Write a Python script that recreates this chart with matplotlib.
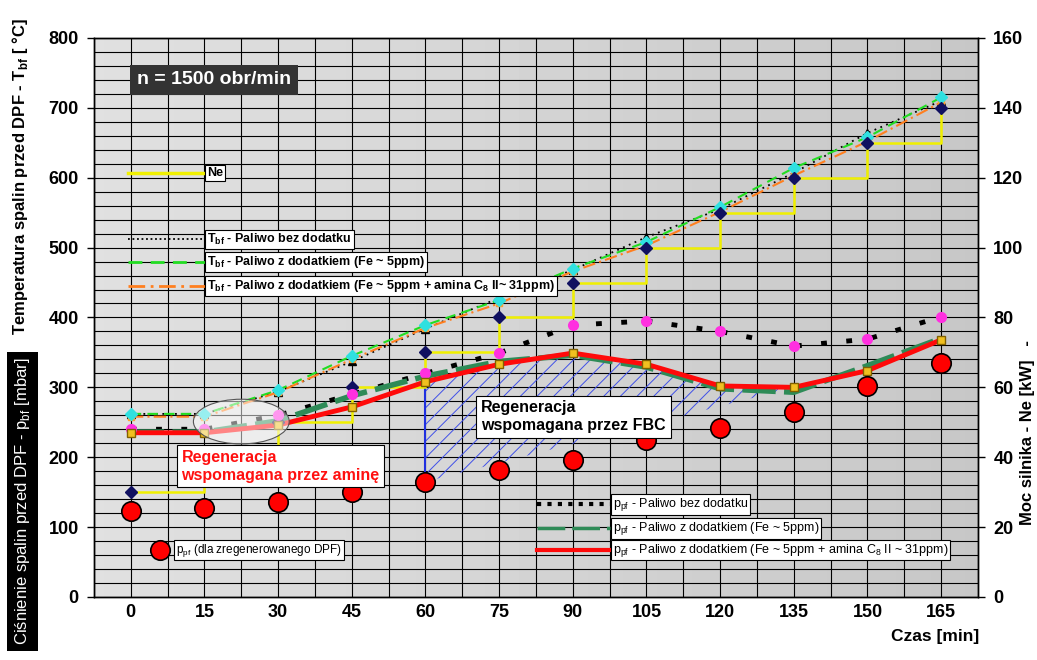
import matplotlib
matplotlib.use('Agg')
import matplotlib.pyplot as plt
from matplotlib.patches import Ellipse
import numpy as np

plt.rcParams.update({
    'font.family': ['Liberation Sans', 'DejaVu Sans'],
    'font.weight': 'bold',
    'hatch.linewidth': 0.7,
})

# czas pomiaru [min]
czas = [0, 15, 30, 45, 60, 75, 90, 105, 120, 135, 150, 165]

# moc silnika Ne [kW]
ne = [30, 40, 50, 60, 70, 80, 90, 100, 110, 120, 130, 140]

# temperatura spalin przed DPF [C]
t_bez = [262, 262, 294, 337, 384, 428, 468, 515, 555, 607, 664, 710]
t_fe = [262, 262, 296, 345, 389, 425, 470, 508, 558, 614, 658, 715]
t_fe_amina = [258, 258, 293, 340, 385, 420, 466, 503, 551, 603, 652, 708]

# cisnienie spalin przed DPF [mbar]
p_bez = [240, 240, 260, 290, 320, 349, 389, 395, 380, 359, 369, 401]
p_fe = [236, 236, 252, 288, 316, 337, 346, 329, 298, 293, 331, 370]
p_fe_amina = [235, 235, 246, 272, 308, 333, 349, 333, 302, 300, 324, 368]
p_regen = [123, 127, 136, 150, 165, 182, 196, 225, 242, 265, 302, 335]

fig = plt.figure(figsize=(10.37, 6.6), dpi=100)
ax = fig.add_axes([0.0906, 0.0955, 0.8525, 0.847])
ax.set_xlim(-7.5, 172.5)
ax.set_ylim(0, 800)

# os prawa - moc silnika
ax2 = ax.twinx()
ax2.set_ylim(0, 160)

# tlo - szary gradient
grad = np.linspace(0.88, 0.78, 256).reshape(1, -1)
ax.imshow(grad, cmap='gray', vmin=0, vmax=1, aspect='auto',
          extent=[-7.5, 172.5, 0, 800], zorder=0)

# siatka
for xv in np.arange(-7.5, 173, 7.5):
    ax.axvline(xv, color='black', lw=0.8, zorder=1)
for yv in np.arange(0, 801, 20):
    ax.axhline(yv, color='black', lw=0.8, zorder=1)

# obszar regeneracji FBC (kreskowanie)
i0, i1 = czas.index(60), czas.index(135)
t_h = np.array(czas[i0:i1 + 1])
gora = np.array(p_fe_amina[i0:i1 + 1])
dol = np.interp(t_h, [czas[i0], czas[i1]], [p_regen[i0], p_fe_amina[i1]])
ax.fill_between(t_h, dol, gora, facecolor='none', edgecolor='#4050e8',
                hatch='//', linewidth=0, zorder=2)
ax.plot([czas[i0], czas[i0]], [p_regen[i0], p_fe_amina[i0]], color='#2030e0', lw=1.5, zorder=3)

# Ne - rysowane w ax ze skala osi prawej (zeby ramki opisow byly na wierzchu)
ax.step(czas, ne, where='post', color='#f0f000', lw=1.8, zorder=4, transform=ax2.transData)
ax.plot(czas, ne, 'D', color='#101060', ms=6, zorder=7, transform=ax2.transData)

# temperatury
ax.plot(czas, t_bez, color='black', ls=(0, (1, 2.5)), lw=1.3, zorder=4)
ax.plot(czas, t_bez, '^', color='black', ms=6, zorder=4)
ax.plot(czas, t_fe, color='#22dd22', ls=(0, (5, 3)), lw=1.5, zorder=4)
ax.plot(czas, t_fe_amina, color='#ff7f1f', ls=(0, (6, 2, 1, 2)), lw=1.5, zorder=4)
ax.plot(czas, t_fe_amina, 's', color='#ff9f2f', ms=5, zorder=5)
ax.plot(czas, t_fe, 'D', color='#30e0e0', ms=6, zorder=6)

# cisnienia
ax.plot(czas, p_bez, color='black', ls=(0, (1.2, 4)), lw=3.5, zorder=5)
ax.plot(czas, p_fe, color='#2e8b57', ls=(0, (6, 1.5)), lw=4, zorder=5)
ax.plot(czas, p_fe_amina, color='#ff0a0a', lw=3.5, zorder=6)
ax.plot(czas, p_bez, 'o', color='#ff30e0', ms=7, zorder=7)
ax.plot(czas, p_fe_amina, 's', color='#f0c020', mec='#806000', ms=6, zorder=7)
ax.plot(czas, p_regen, 'o', color='#ff0000', mec='black', mew=1.2, ms=14, zorder=8)

# elipsa - regeneracja wspomagana przez amine
ax.add_patch(Ellipse((22.5, 251), 19.5, 64, facecolor=(1, 1, 1, 0.5),
                     edgecolor='#555555', lw=0.8, zorder=9))

# opisy - legendy w ramkach
box = dict(boxstyle='square,pad=0.15', facecolor='white', edgecolor='black', lw=0.8)
tr = ax.transAxes


def wpis(y, tekst, **styl):
    ax.plot([0.0385, 0.1256], [y, y], transform=tr, zorder=10, **styl)
    ax.text(0.128, y, tekst, transform=tr, fontsize=9, va='center', bbox=box, zorder=11)


wpis(0.7585, 'Ne', color='#f0f000', lw=2.5)
wpis(0.640, 'T$_{\\mathregular{bf}}$ - Paliwo bez dodatku', color='black', ls=(0, (1, 1.5)), lw=1.3)
wpis(0.599, 'T$_{\\mathregular{bf}}$ - Paliwo z dodatkiem (Fe ~ 5ppm)', color='#22dd22', ls=(0, (5, 3)), lw=2)
wpis(0.556, 'T$_{\\mathregular{bf}}$ - Paliwo z dodatkiem (Fe ~ 5ppm + amina C$_{\\mathregular{8}}$ II~ 31ppm)',
     color='#ff7f1f', ls=(0, (6, 2, 1, 2)), lw=2)


def wpis_p(y, tekst, **styl):
    ax.plot([0.501, 0.584], [y, y], transform=tr, zorder=10, **styl)
    ax.text(0.587, y, tekst, transform=tr, fontsize=9, va='center', bbox=box, zorder=11,
            fontweight='normal')


wpis_p(0.166, 'p$_{\\mathregular{pf}}$ - Paliwo bez dodatku', color='black', ls=(0, (1, 1.5)), lw=3)
wpis_p(0.123, 'p$_{\\mathregular{pf}}$ - Paliwo z dodatkiem (Fe ~ 5ppm)', color='#2e8b57', ls=(0, (8, 2)), lw=2.5)
wpis_p(0.084, 'p$_{\\mathregular{pf}}$ - Paliwo z dodatkiem (Fe ~ 5ppm + amina C$_{\\mathregular{8}}$ II ~ 31ppm)',
       color='#ff0a0a', lw=3)

ax.plot([0.0747], [0.084], 'o', color='#ff0000', mec='black', mew=1.2, ms=14, transform=tr, zorder=10)
ax.text(0.093, 0.084, 'p$_{\\mathregular{pf}}$ (dla zregenerowanego DPF)', transform=tr, fontsize=8.5,
        va='center', bbox=box, zorder=11, fontweight='normal')

ax.text(0.1357, 0.925, 'n = 1500 obr/min', transform=tr, fontsize=14, color='white',
        ha='center', va='center', zorder=11,
        bbox=dict(boxstyle='square,pad=0.35', facecolor='#333333', edgecolor='none'))

ax.text(0.099, 0.234, 'Regeneracja\nwspomagana przez aminę', transform=tr, fontsize=11.5,
        color='#ff1010', ha='left', va='center', linespacing=1.25, zorder=11,
        bbox=dict(boxstyle='square,pad=0.3', facecolor='white', edgecolor='black', lw=0.8))
ax.text(0.438, 0.322, 'Regeneracja\nwspomagana przez FBC', transform=tr, fontsize=11.5,
        color='black', ha='left', va='center', linespacing=1.25, zorder=11,
        bbox=dict(boxstyle='square,pad=0.3', facecolor='white', edgecolor='black', lw=0.8))

# osie
ax.set_xticks(czas)
ax.set_yticks(np.arange(0, 801, 100))
ax2.set_yticks(np.arange(0, 161, 20))
for a in (ax, ax2):
    a.tick_params(labelsize=13, width=1, length=5, pad=6)
    for s in a.spines.values():
        s.set_linewidth(1)
ax.tick_params(axis='x', length=0, pad=5)

fig.text(0.019, 0.732, 'Temperatura spalin przed DPF - T$_{\\mathregular{bf}}$ [ °C]', rotation=90,
         fontsize=12, ha='center', va='center')
fig.text(0.0215, 0.24, 'Ciśnienie spalin przed DPF - p$_{\\mathregular{bf}}$ [mbar]', rotation=90,
         fontsize=12, ha='center', va='center', color='white', fontweight='normal',
         bbox=dict(boxstyle='square,pad=0.35', facecolor='black', edgecolor='none'))
fig.text(0.991, 0.345, 'Moc silnika - Ne [kW]   -', rotation=90, fontsize=12,
         ha='center', va='center')
fig.text(0.902, 0.036, 'Czas [min]', fontsize=12.5, ha='center', va='center')

fig.savefig('out.png', dpi=100)
